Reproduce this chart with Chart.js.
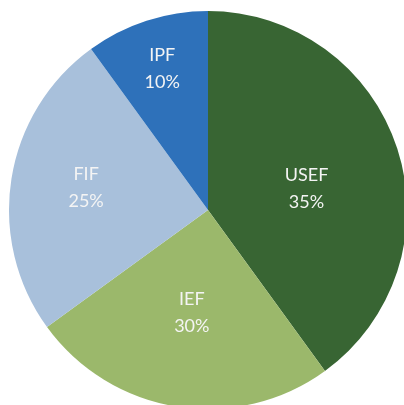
<!DOCTYPE html>
<html>
<head>
<meta charset="utf-8">
<script src="https://cdn.jsdelivr.net/npm/chart.js@4/dist/chart.umd.min.js"></script>
<style>
  html, body { margin: 0; padding: 0; background: #fff; overflow: hidden; }
  #wrap { position: absolute; left: 0; top: 0; width: 416px; height: 420px; }
</style>
</head>
<body>
<div id="wrap"><canvas id="chart" width="416" height="420"></canvas></div>
<script>
"use strict";

// categories clockwise from 12 o'clock
var categories = ["USEF", "IEF", "FIF", "IPF"];
// slice sizes as drawn in the picture (angles)
var sliceValues = [40, 25, 25, 10];
// percentage text printed on each slice
var shareLabels = ["35%", "30%", "25%", "10%"];
var sliceColors = ["#386533", "#9bb86b", "#a8c0db", "#2e71ba"];
// how far out along the slice's middle each label sits (fraction of radius)
var labelRadius = [0.51, 0.52, 0.62, 0.745];
// small pixel corrections on top of that
var labelShift = [[2, 10], [0, 0], [0, -3], [0, 0]];

var labelPlugin = {
    id: "sliceLabels",
    afterDatasetsDraw: function (chart) {
        var ctx = chart.ctx;
        var meta = chart.getDatasetMeta(0);
        ctx.save();
        ctx.fillStyle = "#f4f4f4";
        ctx.font = "18px Lato, 'Open Sans', sans-serif";
        ctx.textAlign = "center";
        ctx.textBaseline = "middle";
        meta.data.forEach(function (arc, i) {
            var mid = (arc.startAngle + arc.endAngle) / 2;
            var r = arc.outerRadius * labelRadius[i];
            var x = arc.x + Math.cos(mid) * r + labelShift[i][0];
            var y = arc.y + Math.sin(mid) * r + labelShift[i][1];
            ctx.fillText(categories[i], x, y - 13.5);
            ctx.fillText(shareLabels[i], x, y + 13.5);
        });
        ctx.restore();
    }
};

new Chart(document.getElementById("chart"), {
    type: "pie",
    data: {
        labels: categories,
        datasets: [{
            data: sliceValues,
            backgroundColor: sliceColors,
            borderWidth: 0
        }]
    },
    options: {
        responsive: false,
        animation: false,
        layout: { padding: 9 },
        plugins: {
            legend: { display: false },
            tooltip: { enabled: false }
        }
    },
    plugins: [labelPlugin]
});
</script>
</body>
</html>
